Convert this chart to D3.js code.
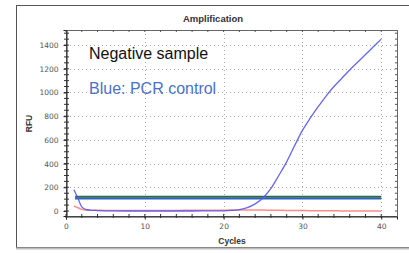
<!DOCTYPE html>
<html>
<head>
<meta charset="UTF-8">
<script src="https://d3js.org/d3.v7.min.js"></script>
<style>
  body { margin: 0; background: #fff; }
  text { font-family: "Liberation Sans", Arial, sans-serif; }
</style>
</head>
<body>
<div class="myDiv"></div>
<script>
// values
var cycles   = [1, 1.5, 2, 2.5, 3, 4, 5, 6, 8, 10, 12, 14, 16, 18, 20, 21, 22, 23, 24, 25, 26, 27, 28, 29, 30, 31, 32, 33, 34, 35, 36, 37, 38, 39, 40];
var pcrCtrl  = [180, 110, 35, 14, 8, 4, 2, 1, 0, 0, 0, 0, 0, 1, 2, 5, 12, 28, 60, 110, 190, 300, 415, 550, 680, 785, 880, 970, 1050, 1120, 1190, 1255, 1320, 1385, 1450];
var negative = [42, 28, 14, 9, 7, 6, 5, 5, 4, 4, 5, 5, 6, 6, 7, 8, 9, 9, 8, 8, 7, 6, 5, 5, 4, 3, 3, 2, 2, 1, 1, 1, 1, 1, 1];
var thresholds = [{v: 120, c: "#2e6b3a"}, {v: 105, c: "#2f62c0"}];
var xTicks = [0, 10, 20, 30, 40];
var yTicks = [0, 200, 400, 600, 800, 1000, 1200, 1400];

(function() {
var W = 409, H = 253;
var svg = d3.select(".myDiv").append("svg").attr("width", W).attr("height", H);

// outer frame
svg.append("rect").attr("x", 16.5).attr("y", 5.5).attr("width", 400).attr("height", 242)
  .attr("fill", "#fff").attr("stroke", "#555").attr("stroke-width", 1);
svg.append("line").attr("x1", 16).attr("x2", 409).attr("y1", 248.5).attr("y2", 248.5)
  .attr("stroke", "#bbb").attr("stroke-width", 2);

var pL = 66, pR = 397, pT = 30, pB = 216;
var x = d3.scaleLinear().domain([0, 42]).range([pL, pR]);
var y = d3.scaleLinear().domain([-42, 1527]).range([pB, pT]);

var g = svg.append("g");

// grid
g.selectAll(".gy").data(yTicks.slice(1)).enter().append("line")
  .attr("x1", pL).attr("x2", pR).attr("y1", d => Math.round(y(d)) + 0.5).attr("y2", d => Math.round(y(d)) + 0.5)
  .attr("stroke", "#aaa").attr("stroke-dasharray", "1,3");
g.selectAll(".gx").data(xTicks.slice(1)).enter().append("line")
  .attr("y1", pT).attr("y2", pB).attr("x1", d => Math.round(x(d)) + 0.5).attr("x2", d => Math.round(x(d)) + 0.5)
  .attr("stroke", "#aaa").attr("stroke-dasharray", "1,3");

// plot border
g.append("rect").attr("x", pL + 0.5).attr("y", pT + 0.5).attr("width", pR - pL).attr("height", pB - pT)
  .attr("fill", "none").attr("stroke", "#666");

// axes
var yAx = g.append("g").attr("transform", "translate(" + (pL + 0.5) + ",0)")
  .call(d3.axisLeft(y).tickValues(yTicks).tickFormat(d3.format("d")).tickSize(3).tickPadding(5));
var xAx = g.append("g").attr("transform", "translate(0," + (pB + 0.5) + ")")
  .call(d3.axisBottom(x).tickValues(xTicks).tickFormat(d3.format("d")).tickSize(3).tickPadding(4.5));
[yAx, xAx].forEach(function(a) {
  a.attr("color", "#222");
  a.selectAll(".tick text").attr("fill", "#555").style("font-size", "7.5px").style("font-family", "'DejaVu Sans', sans-serif");
});

// minor ticks
var yMinor = d3.range(0, 1501, 50);
g.selectAll(".my").data(yMinor).enter().append("line")
  .attr("x1", pL - 2).attr("x2", pL + 3).attr("y1", d => y(d)).attr("y2", d => y(d)).attr("stroke", "#333");
g.selectAll(".myr").data(yMinor).enter().append("line")
  .attr("x1", pR - 2).attr("x2", pR).attr("y1", d => y(d)).attr("y2", d => y(d)).attr("stroke", "#555");
var xMinor = d3.range(0, 42, 2);
g.selectAll(".mx").data(xMinor).enter().append("line")
  .attr("y1", pB - 2).attr("y2", pB + 2).attr("x1", d => x(d)).attr("x2", d => x(d)).attr("stroke", "#333");
g.selectAll(".mxt").data(xMinor).enter().append("line")
  .attr("y1", pT).attr("y2", pT + 2).attr("x1", d => x(d)).attr("x2", d => x(d)).attr("stroke", "#555");

// threshold lines
g.selectAll(".th").data(thresholds).enter().append("line")
  .attr("x1", x(1.15)).attr("x2", x(40)).attr("y1", d => y(d.v)).attr("y2", d => y(d.v))
  .attr("stroke", d => d.c).attr("stroke-width", 2);

var line = d3.line().curve(d3.curveMonotoneX);
g.append("path").datum(cycles.map((c, i) => [x(c), y(negative[i])]))
  .attr("d", line).attr("fill", "none").attr("stroke", "#ff5a5a").attr("stroke-width", 1.5).attr("opacity", 0.7);
g.append("path").datum(cycles.map((c, i) => [x(c), y(pcrCtrl[i])]))
  .attr("d", line).attr("fill", "none").attr("stroke", "#5555f0").attr("stroke-width", 1.3).attr("opacity", 0.9);

// titles
svg.append("text").attr("x", 213).attr("y", 21.5).attr("text-anchor", "middle")
  .style("font-size", "9.5px").style("font-weight", "bold").attr("fill", "#333").text("Amplification");
svg.append("text").attr("x", 232).attr("y", 243.5).attr("text-anchor", "middle")
  .style("font-size", "8.5px").style("font-weight", "bold").attr("fill", "#333").text("Cycles");
svg.append("text").attr("transform", "translate(31.5,123.5) rotate(-90)").attr("text-anchor", "middle")
  .style("font-size", "8.5px").style("font-weight", "bold").attr("fill", "#333").text("RFU");

// annotations
svg.append("text").attr("x", 89).attr("y", 59).style("font-size", "16px").attr("fill", "#111").text("Negative sample");
svg.append("text").attr("x", 89).attr("y", 94).style("font-size", "16px").attr("fill", "#4a72c8").text("Blue: PCR control");
})();
</script>
</body>
</html>
